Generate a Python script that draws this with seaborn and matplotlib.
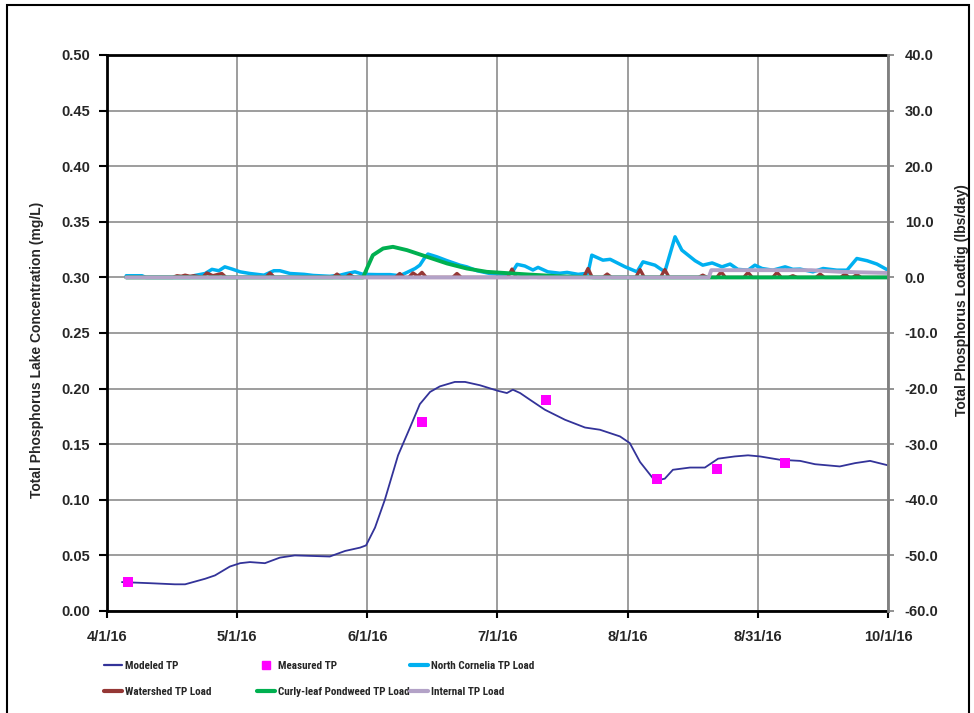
import matplotlib
matplotlib.use("Agg")
import matplotlib.pyplot as plt
import seaborn as sns
from matplotlib.lines import Line2D
from matplotlib.patches import Rectangle
from matplotlib import font_manager

# ---------------- data (days since 4/1/16) ----------------
x_tick_pos = [0, 30.5, 61, 91.5, 122, 152.5, 183]
x_tick_labels = ["4/1/16", "5/1/16", "6/1/16", "7/1/16", "8/1/16", "8/31/16", "10/1/16"]

modeled_days = [3.5, 10.1, 15.9, 18.3, 23.0, 25.3, 28.8, 31.2, 33.5, 37.0, 40.5, 44.0,
                52.2, 55.8, 59.3, 60.7, 62.8, 65.1, 68.2, 71.0, 73.3, 75.7, 78.0, 81.5,
                83.9, 87.4, 91.6, 93.7, 95.1, 96.8, 99.1, 102.6, 107.3, 112.0, 115.5,
                120.2, 122.5, 124.9, 128.4, 130.7, 132.6, 136.6, 140.1, 143.2, 147.1,
                150.2, 153.0, 157.7, 162.4, 165.9, 171.7, 175.3, 178.8, 183.0]
modeled_tp = [0.026, 0.025, 0.024, 0.024, 0.029, 0.032, 0.040, 0.043, 0.044, 0.043, 0.048, 0.050,
              0.049, 0.054, 0.057, 0.059, 0.075, 0.100, 0.140, 0.165, 0.186, 0.197, 0.202, 0.206,
              0.206, 0.203, 0.198, 0.196, 0.199, 0.196, 0.190, 0.181, 0.172, 0.165, 0.163,
              0.157, 0.151, 0.134, 0.117, 0.119, 0.127, 0.129, 0.129, 0.137, 0.139,
              0.140, 0.139, 0.136, 0.135, 0.132, 0.130, 0.133, 0.135, 0.131]

measured_days = [4.9, 73.8, 102.9, 128.9, 142.9, 158.9]
measured_tp = [0.026, 0.170, 0.190, 0.119, 0.128, 0.133]

cornelia_days = [4.5, 8.2, 9.1, 19.4, 20.6, 23.0, 24.6, 26.2, 27.6, 29.3, 31.2, 33.5, 36.8,
                 39.1, 40.5, 42.9, 46.2, 48.3, 52.2, 54.6, 56.2, 58.1, 60.0, 63.3, 66.3,
                 68.6, 70.3, 72.2, 73.3, 74.5, 75.2, 77.3, 79.7, 82.7, 84.3, 86.7, 89.7,
                 92.1, 94.0, 94.9, 96.1, 97.9, 99.8, 101.0, 103.3, 106.1, 107.8, 110.4,
                 112.7, 113.6, 116.2, 117.9, 121.4, 124.2, 125.6, 128.4, 130.7, 133.1,
                 134.7, 137.8, 139.6, 141.8, 144.1, 146.0, 147.8, 150.2, 151.8, 153.5,
                 156.0, 158.9, 160.7, 162.4, 165.4, 167.8, 171.0, 173.4, 175.7, 178.1,
                 180.4, 183.0]
cornelia_load = [0.3, 0.3, 0.0, 0.0, 0.35, 0.7, 1.45, 1.2, 1.9, 1.5, 1.0, 0.7, 0.4,
                 1.2, 1.2, 0.7, 0.55, 0.35, 0.2, 0.4, 0.7, 1.0, 0.55, 0.5, 0.5,
                 0.3, 0.9, 1.6, 2.2, 3.6, 4.2, 3.7, 3.0, 2.2, 1.9, 1.2, 0.7,
                 0.6, 0.6, 0.85, 2.35, 2.05, 1.33, 1.8, 1.0, 0.75, 0.9, 0.55,
                 0.75, 4.0, 3.1, 3.25, 1.9, 1.0, 2.8, 2.2, 1.0, 7.3,
                 4.9, 3.0, 2.2, 2.6, 1.9, 2.4, 1.45, 1.3, 2.2, 1.6,
                 1.3, 1.9, 1.45, 1.5, 1.0, 1.6, 1.3, 1.3, 3.4, 3.0,
                 2.4, 1.3]

watershed_days = [4.5, 15.4, 16.4, 17.4, 18.3, 19.4, 20.4, 22.4, 23.4, 24.8, 25.8, 26.9, 27.9,
                  37.2, 38.2, 39.2, 52.9, 53.9, 54.9, 55.9, 56.9, 57.9, 67.6, 68.6, 69.6,
                  70.7, 71.7, 72.8, 73.8, 74.8, 81.0, 82.0, 83.0, 93.9, 94.9, 95.9, 98.8,
                  99.8, 100.8, 111.7, 112.7, 113.7, 116.2, 117.2, 118.2, 123.9, 124.9,
                  125.9, 129.7, 130.7, 131.7, 138.6, 139.6, 140.6, 142.9, 143.9, 144.9,
                  149.2, 150.2, 151.2, 156.0, 157.0, 158.0, 159.7, 160.7, 161.7, 166.1,
                  167.1, 168.1, 171.9, 172.9, 173.9, 174.7, 175.7, 176.7, 183.0]
watershed_load = [0.0, 0.0, 0.3, 0.2, 0.4, 0.2, 0.3, 0.0, 0.8, 0.3, 0.5, 0.7, 0.0,
                  0.0, 0.8, 0.0, 0.0, 0.6, 0.0, 0.0, 0.5, 0.0, 0.0, 0.7, 0.0,
                  0.0, 0.8, 0.2, 0.9, 0.0, 0.0, 0.7, 0.0, 0.0, 1.5, 0.0, 0.0,
                  0.5, 0.0, 0.0, 1.6, 0.0, 0.0, 0.6, 0.0, 0.0, 1.4,
                  0.0, 0.0, 1.4, 0.0, 0.0, 0.4, 0.0, 0.0, 1.0, 0.0,
                  0.0, 0.9, 0.0, 0.0, 0.9, 0.0, 0.0, 0.3, 0.0, 0.0,
                  0.6, 0.0, 0.0, 0.6, 0.0, 0.0, 0.5, 0.0, 0.0]

curly_days = [4.5, 60.0, 60.9, 62.3, 64.7, 67.0, 70.3, 75.0, 79.7, 84.3, 89.0, 92.1,
              99.1, 106.1, 114.3, 183.0]
curly_load = [0.0, 0.0, 1.6, 4.0, 5.2, 5.5, 4.9, 3.7, 2.5, 1.6, 1.0, 0.85,
              0.5, 0.2, 0.0, 0.0]

internal_days = [4.5, 141.0, 141.6, 165.0, 172.0, 183.0]
internal_load = [0.0, 0.0, 1.3, 1.3, 1.0, 0.8]

legend_labels = ["Modeled TP", "Measured TP", "North Cornelia TP Load",
                 "Watershed TP Load", "Curly-leaf Pondweed TP Load", "Internal TP Load"]

# ---------------- style ----------------
sns.set_style("white")
plt.rcParams["font.family"] = ["Liberation Sans", "DejaVu Sans"]

installed = {f.name for f in font_manager.fontManager.ttflist}
narrow_prefs = ["Liberation Sans Narrow", "Arial Narrow", "Arimo Narrow", "Roboto Condensed",
                "PT Sans Narrow", "Archivo Narrow", "Pragati Narrow", "Open Sans Condensed",
                "IBM Plex Sans Condensed", "Encode Sans Condensed"]
narrow = next((n for n in narrow_prefs if n in installed), None)
if narrow:
    legend_family = [narrow, "Liberation Sans"]
    legend_size = 8.0
    col_x = [104, 257, 410]
else:
    legend_family = ["Liberation Sans", "DejaVu Sans"]
    legend_size = 7.2
    col_x = [104, 257, 416]

W, H = 974, 713
fig = plt.figure(figsize=(W / 100, H / 100), dpi=100)
ax = fig.add_axes([107 / W, 1 - 611 / H, (888 - 107) / W, (611 - 55) / H])
ax2 = ax.twinx()

c_model = "#333399"
c_meas = "#FF00FF"
c_corn = "#00B0F0"
c_ws = "#953735"
c_curly = "#00B050"
c_int = "#B3A2C7"

# left axis: concentrations
sns.lineplot(x=modeled_days, y=modeled_tp, ax=ax, color=c_model, linewidth=1.3,
             estimator=None, legend=False, zorder=3)
sns.scatterplot(x=measured_days, y=measured_tp, ax=ax, color=c_meas, marker="s", s=45,
                edgecolor=c_meas, linewidth=0, legend=False, zorder=4)

# right axis: loads
sns.lineplot(x=cornelia_days, y=cornelia_load, ax=ax2, color=c_corn, linewidth=2.5,
             estimator=None, legend=False)
sns.lineplot(x=watershed_days, y=watershed_load, ax=ax2, color=c_ws, linewidth=2.4,
             estimator=None, legend=False)
sns.lineplot(x=curly_days, y=curly_load, ax=ax2, color=c_curly, linewidth=2.8,
             estimator=None, legend=False)
sns.lineplot(x=internal_days, y=internal_load, ax=ax2, color=c_int, linewidth=2.8,
             estimator=None, legend=False)

ax.set_xlim(0, 183)
ax.set_ylim(0, 0.5)
ax2.set_ylim(-60, 40)
ax.set_xticks(x_tick_pos)
ax.set_xticklabels(x_tick_labels)
ax.set_yticks([i * 0.05 for i in range(11)])
ax.set_yticklabels([f"{i * 0.05:.2f}" for i in range(11)])
ax2.set_yticks(list(range(-60, 41, 10)))
ax2.set_yticklabels([f"{v:.1f}" for v in range(-60, 41, 10)])

ax.grid(True, color="#8c8c8c", linewidth=1.2)
ax2.grid(False)
ax.set_axisbelow(True)

for s in ["left", "bottom", "top"]:
    ax.spines[s].set_visible(True)
    ax.spines[s].set_color("black")
    ax.spines[s].set_linewidth(2)
    ax.spines[s].set_zorder(5)
ax.spines["right"].set_visible(False)
for s in ["left", "bottom", "top"]:
    ax2.spines[s].set_visible(False)
ax2.spines["right"].set_visible(True)
ax2.spines["right"].set_color("#808080")
ax2.spines["right"].set_linewidth(2)

ax.tick_params(axis="y", direction="out", length=6, width=1.5, color="black",
               labelsize=10.5, pad=6, left=True)
ax.tick_params(axis="x", direction="out", length=5, width=1.5, color="black",
               labelsize=10.5, pad=9, bottom=True)
ax2.tick_params(axis="y", direction="out", length=4, width=1.2, color="#808080",
                labelsize=10.5, pad=8, right=True)
for lab in ax.get_xticklabels() + ax.get_yticklabels() + ax2.get_yticklabels():
    lab.set_fontweight("bold")

ax.set_xlabel("")
ax.set_ylabel("")
ax2.set_ylabel("")
fig.text(37 / W, 1 - 350 / H, "Total Phosphorus Lake Concentration (mg/L)", rotation=90,
         ha="center", va="center", fontsize=10, fontweight="bold")
fig.text(962 / W, 1 - 300 / H, "Total Phosphorus Loadtig (lbs/day)", rotation=90,
         ha="center", va="center", fontsize=10, fontweight="bold")

# legend: three columns of two entries
handles = [Line2D([], [], color=c_model, lw=1.6),
           Line2D([], [], color=c_meas, marker="s", ls="none", markersize=6),
           Line2D([], [], color=c_corn, lw=3),
           Line2D([], [], color=c_ws, lw=3),
           Line2D([], [], color=c_curly, lw=3),
           Line2D([], [], color=c_int, lw=3)]
for ci, xpx in enumerate(col_x):
    hs = [handles[ci], handles[ci + 3]]
    ls = [legend_labels[ci], legend_labels[ci + 3]]
    fig.legend(hs, ls, loc="upper left", bbox_to_anchor=(xpx / W, 1 - 661 / H),
               frameon=False, prop={"family": legend_family, "size": legend_size,
                                    "weight": "bold"},
               handlelength=18 / (legend_size * 100 / 72), handletextpad=0.3,
               borderaxespad=0, borderpad=0,
               labelspacing=(27 - legend_size * 100 / 72) / (legend_size * 100 / 72))

# outer frame
fig.add_artist(Rectangle((7 / W, -0.05), (969 - 7) / W, 1 - 5 / H + 0.05,
                         transform=fig.transFigure, fill=False, edgecolor="black",
                         linewidth=1.5, clip_on=False))

fig.savefig("out.png", dpi=100)
